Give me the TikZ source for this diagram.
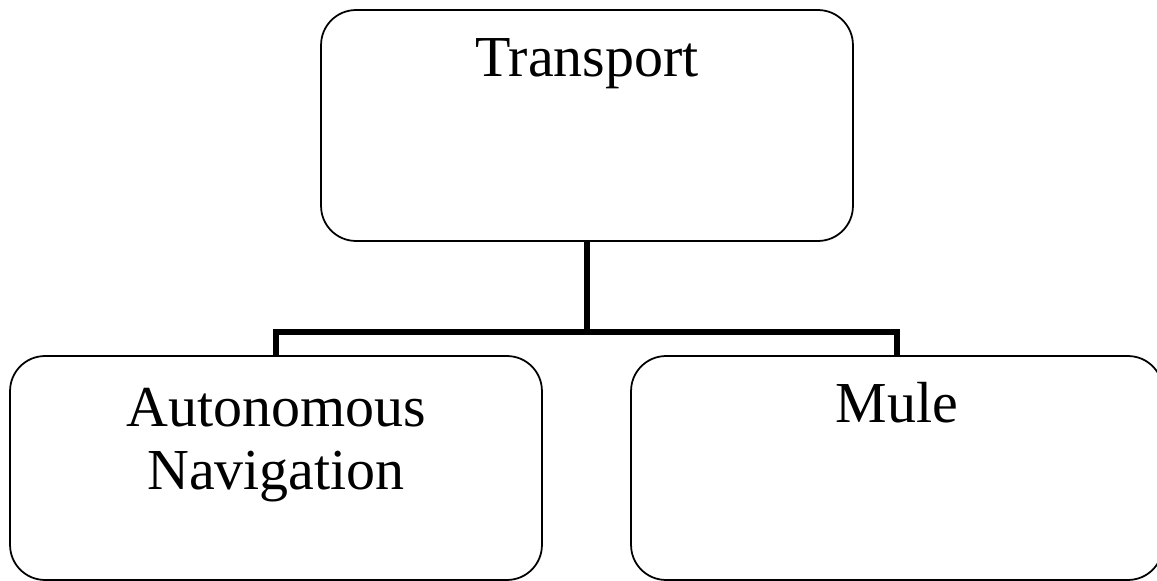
\documentclass[tikz,border=0pt]{standalone}
\usepackage{fontspec}
\setmainfont{Liberation Serif}
\usetikzlibrary{positioning, calc}

\begin{document}
\begin{tikzpicture}
  [x=0.02cm, y=-0.02cm,
    box/.style ={
        rectangle,
        draw=black,
        line width=1pt,
        rounded corners=0.7cm,
        minimum width=10.64cm,
        % minimum height=4.5cm,
      },
    caption/.style ={
        font=\fontsize{33}{35.7}\selectfont,
        align=center,
        inner sep=0pt,
        anchor=base,
      },
    link/.style ={line width=3pt},
  ]
  \useasboundingbox[clip] (0,0) rectangle (1157,581);

  \node[box, minimum height=4.62cm] (transport) at (587,125.5) {};
  \node[box, minimum height=4.48cm] (autonav) at (276,468) {};
  \node[box, minimum height=4.48cm] (mule) at (897,468) {};

  \node[caption] (transporttext) at ([yshift=-1.34cm]transport.north) {Transport};
  % base anchor sits on the last line here
  \node[caption] (autonavtext) at ([yshift=-2.68cm]autonav.north) {Autonomous\\Navigation};
  \node[caption] (muletext) at ([yshift=-1.34cm]mule.north) {Mule};

  \coordinate (fork) at (587,332);
  \draw[link] (transport.south) -- (fork);
  \draw[link] (autonav.north) |- (fork) -| (mule.north);
\end{tikzpicture}
\end{document}
